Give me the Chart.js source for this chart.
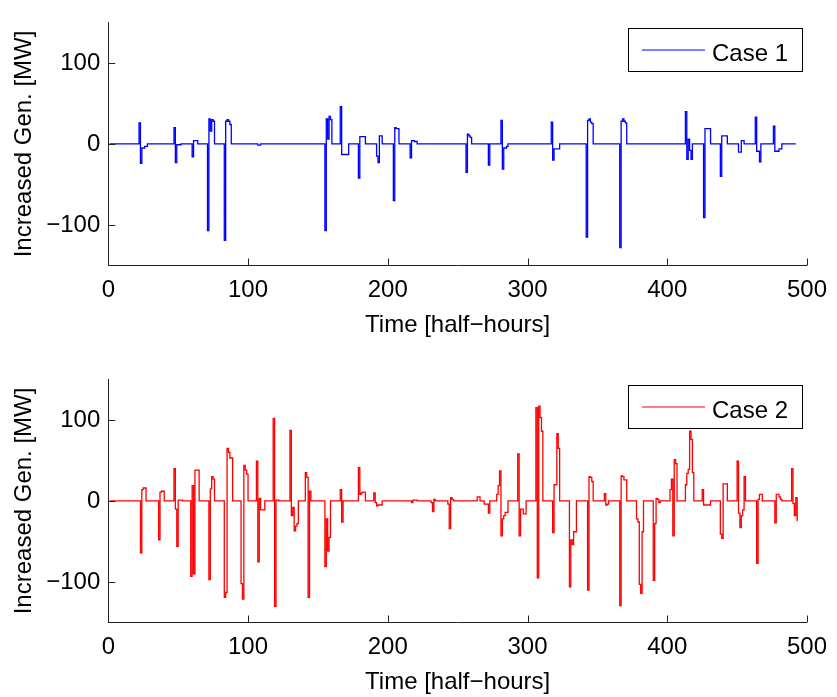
<!DOCTYPE html>
<html>
<head>
<meta charset="utf-8">
<script src="https://cdn.jsdelivr.net/npm/chart.js@4.4.1/dist/chart.umd.min.js"></script>
<style>
  body { margin: 0; background: #fff; }
  .plot { position: absolute; left: 0; }
</style>
</head>
<body>
<canvas id="case1-chart" class="plot" width="837" height="340" style="top:0px"></canvas>
<canvas id="case2-chart" class="plot" width="837" height="340" style="top:357px"></canvas>
<script>
// axis ticks
const xTicks = [0, 100, 200, 300, 400, 500];
const yTicks = [-100, 0, 100];

// Case 1: half-hour index where the value changes, and the value held from there on
const case1T = [1, 22, 23, 24, 26, 28, 47, 48, 49, 52, 60, 61, 64, 71, 72, 73, 74, 75, 76,
  83, 84, 85, 86, 87, 88, 107, 109, 155, 156, 157, 158, 159, 160, 166, 167, 172,
  179, 180, 184, 192, 193, 194, 196, 204, 205, 206, 208, 216, 217, 219, 221,
  256, 257, 258, 259, 260, 272, 273, 281, 282, 283, 285, 286, 317, 318, 319, 323,
  342, 343, 344, 345, 346, 347, 366, 367, 368, 369, 370, 371, 413, 414, 415, 416, 417, 418,
  426, 427, 431, 438, 439, 443, 451, 453, 455, 463, 464, 466, 467, 476, 477, 480, 482, 492];
const case1V = [0, 26, -24, -5, -3, 0, 20, -23, -1, 0, -16, 4, 0, -107, 31, 16, 30, 28, 0,
  -119, 28, 30, 28, 24, 0, -1.5, 0, -107, 31, 6, 34, 30, 0, 46, -13, 0,
  -42, 9, 0, -15, -23, 10, 0, -70, 20, 19, 0, -17, 4, 3, 0,
  -35, 12, 10, 8, 0, -26, 0, 29, -31, -5, -3, 0, 27, -20, -6, 0,
  -115, 29, 31, 27, 25, 0, -128, 28, 31, 28, 26, 0, 40, -19, 6, -8, -19, 0,
  -91, 19, 0, -40, 10, 0, -10, 4, 0, 33, -9, -22, 0, 22, -9, -6, 0, 0];

// Case 2
const case2T = [1, 23, 24, 25, 27, 36, 37, 38, 40, 47, 48, 49, 50, 53, 59, 60, 61, 62, 65,
  72, 73, 74, 75, 76, 83, 84, 85, 86, 87, 89, 95, 96, 97, 98, 99, 100,
  106, 107, 108, 109, 112, 118, 119, 120, 122, 130, 131, 132, 133, 134, 135, 136,
  141, 142, 143, 144, 145, 155, 156, 157, 158, 159, 166, 167, 168,
  179, 180, 181, 182, 184, 190, 191, 192, 193, 196, 217, 218, 221,
  231, 232, 233, 234, 243, 244, 245, 246, 247, 264, 266, 269, 272, 273,
  278, 279, 280, 281, 282, 283, 284, 286, 293, 294, 295, 297, 299,
  306, 307, 308, 309, 310, 311, 318, 319, 321, 322, 323, 330, 331, 332, 333, 335,
  343, 344, 345, 346, 347, 355, 356, 357, 358, 366, 367, 368, 369, 371,
  378, 379, 380, 381, 382, 383, 390, 391, 392, 393, 394, 395,
  402, 403, 404, 405, 406, 407, 413, 414, 415, 416, 417, 418, 419,
  425, 426, 431, 438, 439, 440, 443, 450, 451, 452, 453, 454, 455, 456,
  464, 465, 466, 468, 477, 478, 480, 481, 482, 489, 490, 491, 492, 493];
const case2V = [0, -64, 14, 16, 0, -48, 11, 12, 0, 40, -10, -56, 1, 0, -93, 19, -90, 38, 0,
  -97, 15, 30, 27, 0, -119, -113, 65, 60, 53, 0, -102, -121, 44, 38, 33, 0,
  49, -75, 3, -11, 0, 102, -130, 1, 0, 87, -18, -8, -37, -31, -28, 0,
  35, 29, -119, 12, 0, -81, -22, -62, -45, 0, 14, -26, 0,
  41, 8, 10, 11, 0, 10, -2, -6, -5, 0, -2, 1, 0,
  -2, -13, 2, 0, -4, -34, 4, 2, 0, 5, 0, -4, -15, 0,
  8, 19, 37, -43, -22, -18, -14, 0, 58, -43, -10, -16, 0,
  115, -95, 117, 103, 86, 0, -39, 20, 83, 65, 0, -106, -48, -54, -38, 0,
  -110, 30, 29, 24, 0, 9, -5, -4, 0, -129, 31, 30, 26, 0,
  -22, -26, -103, -114, -38, 0, -98, -28, 3, 2, -2, 0,
  14, 27, -43, 51, 46, 0, 20, 34, 39, 86, 76, 35, 0,
  14, -5, 0, -41, -46, 21, 0, 49, -15, -33, -18, -11, 30, 0,
  -77, 2, 8, 0, -27, 8, 5, 2, 0, 40, -3, -18, 4, -25];

const FONT = "'Liberation Sans', Arial, Helvetica, sans-serif";
Chart.defaults.font.family = FONT;
Chart.defaults.color = "#000";

// matlab style inward ticks + boxed legend in the upper right
const matlabBits = {
  id: "matlabBits",
  afterDraw(chart) {
    const ctx = chart.ctx;
    const xs = chart.scales.x;
    const ys = chart.scales.y;
    const area = chart.chartArea;
    ctx.save();
    ctx.strokeStyle = "#222";
    ctx.lineWidth = 1;
    ctx.beginPath();
    xTicks.forEach(function (v) {
      const px = Math.round(xs.getPixelForValue(v)) + 0.5;
      ctx.moveTo(px, area.bottom);
      ctx.lineTo(px, area.bottom - 7);
    });
    yTicks.forEach(function (v) {
      const py = Math.round(ys.getPixelForValue(v)) + 0.5;
      ctx.moveTo(area.left, py);
      ctx.lineTo(area.left + 7, py);
    });
    ctx.stroke();

    // legend
    const ds = chart.data.datasets[0];
    ctx.fillStyle = "#fff";
    ctx.fillRect(628.5, 28.5, 174, 43);
    ctx.strokeStyle = "#000";
    ctx.strokeRect(628.5, 28.5, 174, 43);
    ctx.strokeStyle = ds.borderColor;
    ctx.lineWidth = 1.2;
    ctx.beginPath();
    ctx.moveTo(642, 50);
    ctx.lineTo(705, 50);
    ctx.stroke();
    ctx.fillStyle = "#000";
    ctx.font = "24px " + FONT;
    ctx.textBaseline = "alphabetic";
    ctx.textAlign = "left";
    ctx.fillText(ds.label, 712, 60.5);
    ctx.restore();
  },
};

function makeChart(id, label, color, ts, vs) {
  const ctx = document.getElementById(id);
  if (!ctx) return;
  new Chart(ctx, {
    type: "line",
    data: {
      datasets: [
        {
          label: label,
          data: ts.map(function (t, i) {
            return { x: t, y: vs[i] };
          }),
          borderColor: color,
          borderWidth: 1.3,
          pointRadius: 0,
          stepped: true,
          fill: false,
        },
      ],
    },
    options: {
      responsive: false,
      devicePixelRatio: 1,
      animation: false,
      events: [],
      layout: { padding: { top: 16, right: 24.5, left: 0, bottom: 0 } },
      plugins: {
        legend: { display: false },
        tooltip: { enabled: false },
        title: { display: false },
      },
      scales: {
        x: {
          type: "linear",
          min: 0,
          max: 500,
          afterBuildTicks: function (s) {
            s.ticks = xTicks.map(function (v) { return { value: v }; });
          },
          afterFit: function (s) {
            s.height = 74.5;
          },
          ticks: { font: { size: 24 }, padding: 10, maxRotation: 0, autoSkip: false },
          grid: { display: false, drawTicks: false },
          border: { display: true, color: "#222", width: 1 },
          title: {
            display: true,
            text: "Time [half\u2212hours]",
            font: { size: 24 },
            padding: { top: 0, bottom: 0 },
          },
        },
        y: {
          type: "linear",
          min: -150,
          max: 150,
          afterBuildTicks: function (s) {
            s.ticks = yTicks.map(function (v) { return { value: v }; });
          },
          afterFit: function (s) {
            s.width = 108.3;
          },
          ticks: {
            font: { size: 24 },
            padding: 8,
            callback: function (v) {
              return v < 0 ? "\u2212" + Math.abs(v) : String(v);
            },
          },
          grid: { display: false, drawTicks: false },
          border: { display: true, color: "#222", width: 1 },
          title: {
            display: true,
            text: "Increased Gen. [MW]",
            font: { size: 24 },
            padding: { top: 10, bottom: 0 },
          },
        },
      },
    },
    plugins: [matlabBits],
  });
}

makeChart("case1-chart", "Case 1", "#0000ff", case1T, case1V);
makeChart("case2-chart", "Case 2", "#ff0000", case2T, case2V);
</script>
</body>
</html>
